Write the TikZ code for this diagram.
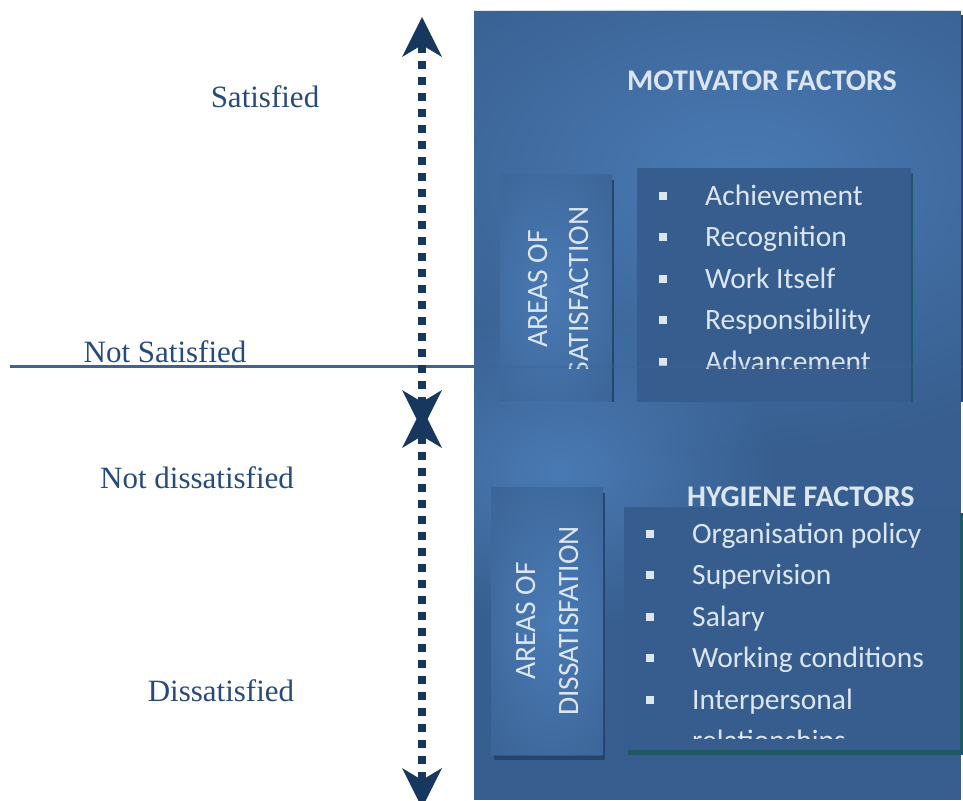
\documentclass[tikz,border=0pt]{standalone}
\usepackage{fontspec}
\setmainfont{Liberation Serif}
\newfontfamily\calib{Carlito}
\usetikzlibrary{arrows.meta,fadings}
\definecolor{panel}{RGB}{55,94,142}
\definecolor{glow}{RGB}{74,122,180}
\definecolor{listbg}{RGB}{54,93,141}
\definecolor{txt}{RGB}{220,230,242}
\definecolor{lbl}{RGB}{38,74,125}
\definecolor{arr}{RGB}{23,55,94}
\definecolor{hline}{RGB}{61,100,148}
\definecolor{tealsh}{RGB}{33,88,104}
\definecolor{navysh}{RGB}{40,68,106}
\tikzfading[name=glowfade, inner color=transparent!0, outer color=transparent!100]
\tikzset{
  lefttxt/.style={text=lbl, font=\fontsize{31}{31}\selectfont, inner sep=0, anchor=base},
  item/.style={text=txt, font=\calib\fontsize{29.5}{29.5}\selectfont, inner sep=0, anchor=base west},
  head/.style={text=txt, font=\calib\bfseries\fontsize{30}{30}\selectfont, inner sep=0, anchor=base west},
  vtext/.style={text=txt, font=\calib\fontsize{29.5}{29.5}\selectfont, inner sep=0, anchor=base, rotate=90},
  bul/.style={fill=txt, minimum size=8pt, inner sep=0, draw=none},
  glowfill/.style={fill=glow, path fading=glowfade},
  dotline/.style={draw=arr, line width=8pt, dash pattern=on 8pt off 8pt},
  btip/.style={{Stealth[length=40pt,width=40pt,inset=12pt,line width=0pt]}-{Stealth[length=40pt,width=40pt,inset=12pt,line width=0pt]}}
}
\begin{document}
\begin{tikzpicture}[x=1pt,y=-1pt]
\useasboundingbox (0,0) rectangle (963,800);
% main panel
\fill[navysh] (961,15) rectangle (963,402);
\fill[panel] (474,11) rectangle (961,800);
\begin{scope}
  \clip (474,11) rectangle (961,800);
  \fill[glowfill] (740,178) ellipse [x radius=440, y radius=280];
  \fill[glowfill] (560,470) ellipse [x radius=220, y radius=160];
\end{scope}
% upper left box
\fill[navysh] (612,180) rectangle (614,402);
\fill[panel] (500,174) rectangle (612,402);
\begin{scope}
  \clip (500,174) rectangle (612,402);
  \fill[glowfill] (550,290) ellipse [x radius=120, y radius=220];
\end{scope}
% upper list box
\fill[tealsh] (911,173) rectangle (913,402);
\fill[listbg] (637,168) rectangle (911,402);
\node[head] (mh) at (627,90) {MOTIVATOR FACTORS};
\begin{scope}
  \clip (474,160) rectangle (911,368);
  \node[vtext] (sa1) at (547,289) {AREAS OF};
  \node[vtext] (sa2) at (588,291) {SATISFACTION};
  \node[bul] (b1) at (663,195.5) {};
  \node[bul] (b2) at (663,237) {};
  \node[bul] (b3) at (663,278.5) {};
  \node[bul] (b4) at (663,320) {};
  \node[bul] (b5) at (663,361.5) {};
  \node[item] (m1) at (705,205) {Achievement};
  \node[item] (m2) at (705,246.5) {Recognition};
  \node[item] (m3) at (705,288) {Work Itself};
  \node[item] (m4) at (705,329.5) {Responsibility};
  \node[item] (m5) at (705,371) {Advancement};
\end{scope}
% hygiene heading
\node[head] (hh) at (687,506) {HYGIENE FACTORS};
% lower left box
\fill[navysh] (494,755) rectangle (605,760);
\fill[navysh] (603,493) rectangle (605,760);
\fill[panel] (491,487) rectangle (603,755);
\begin{scope}
  \clip (491,487) rectangle (603,755);
  \fill[glowfill] (552,620) ellipse [x radius=120, y radius=240];
\end{scope}
\node[vtext] (da1) at (535,621) {AREAS OF};
\node[vtext] (da2) at (578,621) {DISSATISFATION};
% lower list box
\fill[tealsh] (628,750) rectangle (963,755);
\fill[tealsh] (960,513) rectangle (963,755);
\fill[listbg] (624,507) rectangle (960,750);
\begin{scope}
  \clip (624,507) rectangle (960,738);
  \node[bul] (c1) at (650,533.5) {};
  \node[bul] (c2) at (650,575) {};
  \node[bul] (c3) at (650,616.5) {};
  \node[bul] (c4) at (650,658) {};
  \node[bul] (c5) at (650,699.5) {};
  \node[item] (h1) at (692,543) {Organisation policy};
  \node[item] (h2) at (692,584.5) {Supervision};
  \node[item] (h3) at (692,626) {Salary};
  \node[item] (h4) at (692,667.5) {Working conditions};
  \node[item] (h5) at (692,709) {Interpersonal};
  \node[item] (h6) at (692,750.5) {relationships};
\end{scope}
% horizontal divider
\coordinate (hl) at (10,366);
\coordinate (hp) at (474,366);
\coordinate (hr) at (963,366);
\draw[hline, line width=3pt] (hl) -- (hp);
\draw[hline, line width=3pt, opacity=0.3] (hp) -- (hr);
% dotted arrows
\coordinate (atop) at (422,17);
\coordinate (amid1) at (422,430);
\coordinate (amid2) at (422,408);
\coordinate (abot) at (422,808);
\draw[dotline, btip] (atop) -- (amid1);
\draw[dotline, btip] (amid2) -- (abot);
% left labels
\node[lefttxt] (l1) at (265,107) {Satisfied};
\node[lefttxt] (l2) at (165,362) {Not Satisfied};
\node[lefttxt] (l3) at (197,488) {Not dissatisfied};
\node[lefttxt] (l4) at (221,701) {Dissatisfied};
\end{tikzpicture}
\end{document}
